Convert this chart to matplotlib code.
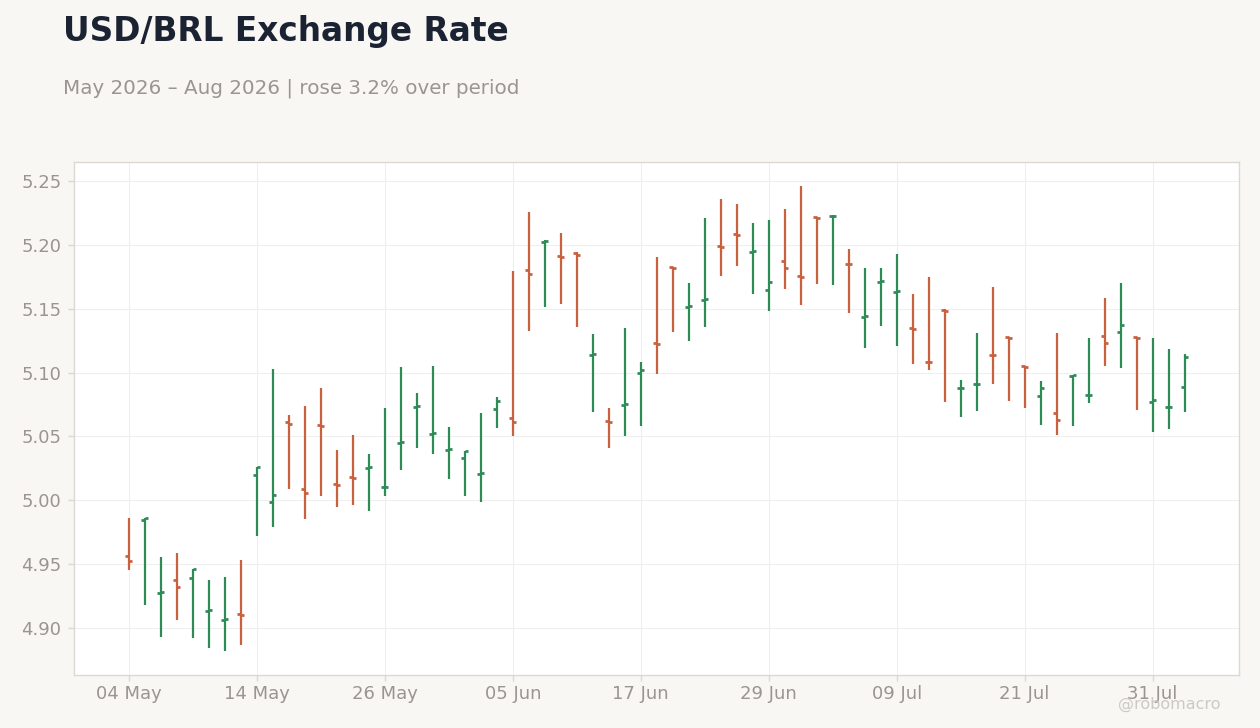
import numpy as np
import pandas as pd
import matplotlib.pyplot as plt
import matplotlib.ticker as mticker

# OHLC data, one row per business day from 04 May 2026
start_date = "2026-05-04"
n_days = 67
opens = [4.956, 4.9846, 4.927, 4.9376, 4.9392, 4.913, 4.906, 4.911, 5.0198, 4.9987,
         5.061, 5.0091, 5.059, 5.0125, 5.018, 5.0255, 5.010, 5.0448, 5.073, 5.052,
         5.0395, 5.0334, 5.0205, 5.0718, 5.064, 5.1806, 5.2025, 5.191, 5.1934, 5.1138,
         5.062, 5.0749, 5.1000, 5.123, 5.1825, 5.1515, 5.157, 5.199, 5.2083, 5.1945,
         5.165, 5.1877, 5.1757, 5.2215, 5.2225, 5.1853, 5.1436, 5.171, 5.1634, 5.1346,
         5.1085, 5.1493, 5.0878, 5.0907, 5.114, 5.1275, 5.1052, 5.0817, 5.0684, 5.097,
         5.0821, 5.1287, 5.1318, 5.1279, 5.077, 5.073, 5.0888]
highs = [4.986, 4.986, 4.9556, 4.9588, 4.946, 4.9376, 4.940, 4.9533, 5.0258, 5.1028,
         5.0668, 5.0739, 5.088, 5.0394, 5.0512, 5.0363, 5.0723, 5.1044, 5.084, 5.1052,
         5.0574, 5.0389, 5.0684, 5.0809, 5.1796, 5.2258, 5.2036, 5.2093, 5.1942, 5.1303,
         5.0723, 5.135, 5.1083, 5.1906, 5.183, 5.1702, 5.2211, 5.236, 5.232, 5.2172,
         5.2195, 5.2281, 5.2461, 5.2219, 5.2237, 5.1968, 5.1819, 5.1819, 5.1929, 5.1616,
         5.1749, 5.1496, 5.094, 5.1308, 5.1668, 5.1278, 5.1055, 5.0932, 5.1308, 5.0984,
         5.1269, 5.1582, 5.17, 5.1282, 5.1269, 5.1183, 5.1144]
lows = [4.945, 4.918, 4.8925, 4.9058, 4.8917, 4.8838, 4.8815, 4.8867, 4.9723, 4.9786,
        5.0084, 4.9849, 5.0029, 4.9943, 4.9966, 4.9919, 5.0029, 5.024, 5.0405, 5.0358,
        5.0162, 5.0029, 4.9982, 5.0569, 5.0506, 5.1329, 5.1517, 5.154, 5.136, 5.0694,
        5.0405, 5.0506, 5.0585, 5.0992, 5.1321, 5.125, 5.136, 5.1759, 5.1838, 5.1618,
        5.1485, 5.1658, 5.1532, 5.1697, 5.1689, 5.147, 5.1195, 5.1368, 5.1211, 5.107,
        5.1023, 5.0773, 5.0653, 5.07, 5.0911, 5.0778, 5.0723, 5.059, 5.0512, 5.0582,
        5.0762, 5.1052, 5.1037, 5.0708, 5.0535, 5.0559, 5.0692]
closes = [4.9525, 4.9857, 4.928, 4.9321, 4.9457, 4.914, 4.907, 4.910, 5.0256, 5.0042,
          5.060, 5.0057, 5.058, 5.012, 5.0175, 5.026, 5.0107, 5.0452, 5.0735, 5.0525,
          5.040, 5.0389, 5.021, 5.078, 5.0616, 5.1775, 5.2031, 5.1905, 5.1924, 5.1143,
          5.0615, 5.0757, 5.1023, 5.122, 5.182, 5.152, 5.1575, 5.1985, 5.2078, 5.195,
          5.1712, 5.182, 5.1749, 5.221, 5.223, 5.185, 5.144, 5.1714, 5.1642, 5.1342,
          5.108, 5.1485, 5.0882, 5.0911, 5.1136, 5.127, 5.1044, 5.088, 5.0627, 5.098,
          5.0825, 5.1232, 5.1373, 5.1271, 5.0786, 5.0733, 5.1123]

dates = pd.bdate_range(start_date, periods=n_days)
df = pd.DataFrame({"open": opens, "high": highs, "low": lows, "close": closes}, index=dates)

up_color = "#2e8b57"
down_color = "#c9613f"
bg_color = "#f8f7f4"
tick_color = "#9a9590"
spine_color = "#ddd8d2"

fig = plt.figure(figsize=(12.6, 7.28), dpi=100, facecolor=bg_color)
ax = fig.add_axes([0.0587, 0.0728, 0.9246, 0.7047])
ax.set_facecolor("white")

x = np.arange(len(df))
colors = np.where(df["close"] >= df["open"], up_color, down_color)
tick_w = 0.22

ax.vlines(x, df["low"], df["high"], colors=colors, linewidth=1.6, zorder=3)
ax.hlines(df["open"], x - tick_w, x, colors=colors, linewidth=2.0, zorder=3)
ax.hlines(df["close"], x, x + tick_w, colors=colors, linewidth=2.0, zorder=3)

ax.set_xlim(-3.44, 69.4)
ax.set_ylim(4.863, 5.265)

# date ticks every 8 business days
tick_pos = x[::8]
ax.set_xticks(tick_pos)
ax.set_xticklabels([d.strftime("%d %b") for d in df.index[tick_pos]])
ax.yaxis.set_major_locator(mticker.MultipleLocator(0.05))
ax.yaxis.set_major_formatter(mticker.FormatStrFormatter("%.2f"))

ax.grid(True, color="#efefef", linewidth=0.8, zorder=0)
ax.set_axisbelow(True)
for s in ax.spines.values():
    s.set_color(spine_color)
    s.set_linewidth(1.0)
ax.tick_params(axis="both", colors=spine_color, labelcolor=tick_color,
               labelsize=13, length=4, width=1)
ax.tick_params(axis="y", pad=5)

fig.text(0.05, 0.944, "USD/BRL Exchange Rate", fontsize=23.6, fontweight="bold",
         color="#1b2333", va="baseline", ha="left")
fig.text(0.05, 0.8715, "May 2026 \u2013 Aug 2026 | rose 3.2% over period",
         fontsize=14.3, color="#9a9590", va="baseline", ha="left")
fig.text(0.928, 0.033, "@robomacro", fontsize=11.5, color="#c8c5c0",
         ha="center", va="center", alpha=0.9)

fig.savefig("out.png", dpi=100, facecolor=bg_color)
